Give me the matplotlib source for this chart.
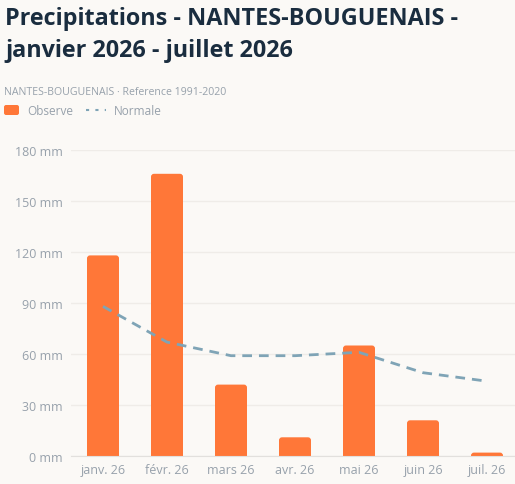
import matplotlib.pyplot as plt
from matplotlib.patches import FancyBboxPatch

months = ['janv. 26', 'févr. 26', 'mars 26', 'avr. 26', 'mai 26', 'juin 26', 'juil. 26']
observe = [118, 166, 42, 11, 65, 21, 2]
normale = [88, 67, 59, 59, 61, 49, 44]
yticks = [0, 30, 60, 90, 120, 150, 180]

bg = '#fbf9f6'
orange = '#ff7738'
blue = '#7fa4b6'
grey = '#97a1ab'

plt.rcParams['font.family'] = ['Open Sans', 'DejaVu Sans']

fig = plt.figure(figsize=(5.15, 4.85), dpi=100, facecolor=bg)
W, H = 515, 485

# plot area in pixels: left 71, right 515, bottom 457 (0 mm), top 151 (180 mm)
ax = fig.add_axes([71 / W, (H - 457) / H, (515 - 71) / W, (457 - 151) / H])
ax.set_facecolor(bg)

x = list(range(len(months)))
bars = ax.bar(x, observe, width=0.5, color=orange, zorder=2)

# rounded tops: swap each bar for a rounded box that dips below the axis
px_x = 64.0   # pixels per category
px_y = 1.7    # pixels per mm
r = 3 / px_x
for b in bars:
    bx, by = b.get_x(), b.get_y()
    bw, bh = b.get_width(), b.get_height()
    b.set_visible(False)
    ext = 4 / px_y
    p = FancyBboxPatch((bx, by - ext), bw, bh + ext,
                       boxstyle=f'round,pad=0,rounding_size={r}',
                       mutation_aspect=px_x / px_y, color=orange, lw=0, zorder=2)
    ax.add_patch(p)

ax.plot(x, normale, color=blue, lw=2, ls=(0, (3.5, 2.5)), zorder=3)

ax.set_xlim(-0.5, 6.5 - 4 / 64)
ax.set_ylim(0, 180)
ax.set_yticks(yticks)
ax.set_yticklabels([f'{v} mm' for v in yticks])
ax.set_xticks(x)
ax.set_xticklabels(months)
ax.tick_params(length=0, colors=grey, labelsize=9)
ax.tick_params(axis='y', pad=6)
ax.tick_params(axis='x', pad=5)
ax.grid(axis='y', color='#efece8', lw=1, zorder=0)
for s in ['top', 'right', 'left']:
    ax.spines[s].set_visible(False)
ax.spines['bottom'].set_color('#e2e0dd')
ax.spines['bottom'].set_zorder(4)

fig.text(5 / W, 1 - 25 / H, 'Precipitations - NANTES-BOUGUENAIS -', fontsize=16.8,
         fontweight='bold', color='#1a2d3f', va='baseline')
fig.text(5 / W, 1 - 57 / H, 'janvier 2026 - juillet 2026', fontsize=16.8,
         fontweight='bold', color='#1a2d3f', va='baseline')
fig.text(4 / W, 1 - 95 / H, 'NANTES-BOUGUENAIS · Reference 1991-2020', fontsize=7.6,
         color=grey, va='baseline')

# legend
fig.patches.append(FancyBboxPatch((4 / W, 1 - 116 / H), 15 / W, 10 / H,
                                  boxstyle='round,pad=0,rounding_size=0.004',
                                  mutation_aspect=W / H,
                                  transform=fig.transFigure, color=orange, lw=0))
fig.text(27 / W, 1 - 115 / H, 'Observe', fontsize=8.5, color=grey, va='baseline')
fig.lines.append(plt.Line2D([86 / W, 106 / W], [1 - 111 / H, 1 - 111 / H],
                            transform=fig.transFigure, color=blue, lw=1.5,
                            ls=(0, (1.5, 3))))
fig.text(114 / W, 1 - 115 / H, 'Normale', fontsize=8.5, color=grey, va='baseline')

fig.savefig('out.png', dpi=100, facecolor=bg)
